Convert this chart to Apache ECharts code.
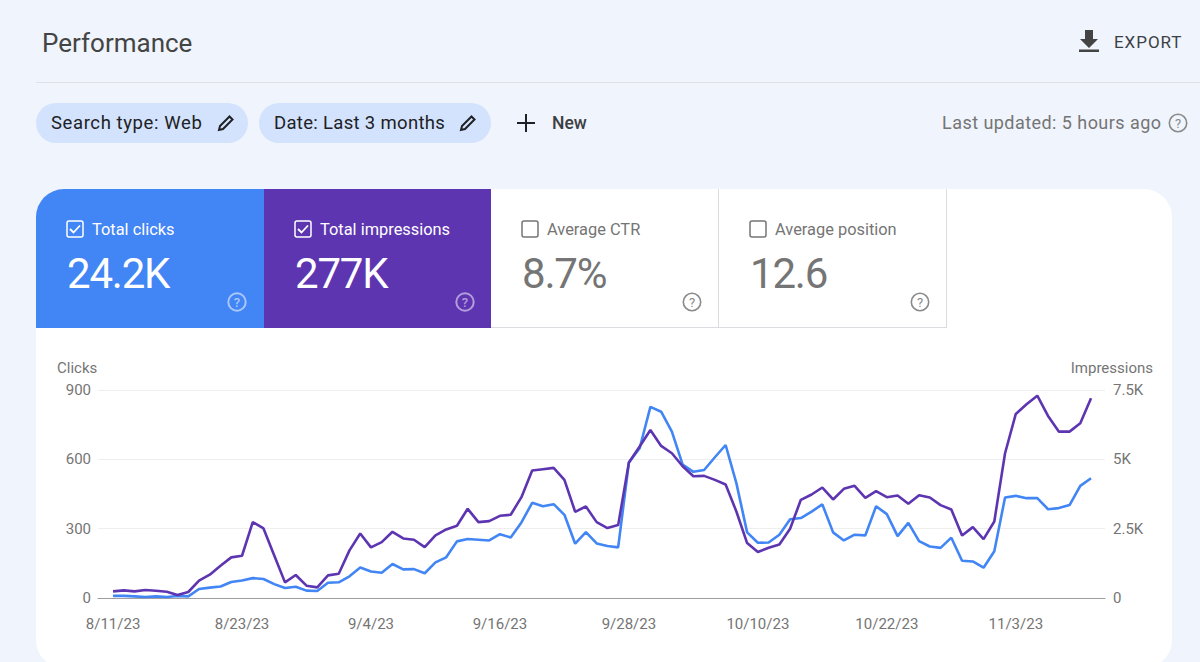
<!DOCTYPE html>
<html>
<head>
<meta charset="utf-8">
<title>Performance</title>
<script src="https://cdn.jsdelivr.net/npm/echarts@6/dist/echarts.min.js"></script>
<style>
  html, body { margin: 0; padding: 0; width: 1200px; height: 662px; overflow: hidden; background: #f0f4fc; font-family: Roboto, sans-serif; }
  .abs { position: absolute; white-space: nowrap; }
  #title { left: 42px; top: 28px; font-size: 26px; color: #444; }
  #export { left: 1114px; top: 32px; font-size: 17px; letter-spacing: .95px; color: #3c4043; }
  #rule { left: 36px; top: 82px; width: 1164px; height: 1px; background: #dfe1e5; }
  .chip { height: 40px; top: 103px; background: #d3e3fd; border-radius: 20px; }
  .chip-text { top: 112px; font-size: 18.5px; color: #202124; }
  #updated { left: 942px; top: 112px; font-size: 18px; letter-spacing: .45px; color: #757575; }
  #card { left: 36px; top: 189px; width: 1136px; height: 479px; background: #fff; border-radius: 28px; overflow: hidden; }
  .tile { position: absolute; top: 0; height: 139px; }
  #t1 { left: 0; width: 228px; background: #4285f4; }
  #t2 { left: 228px; width: 227px; background: #5e35b1; }
  #t3 { left: 455px; width: 227px; border-right: 1px solid #dadce0; border-bottom: 1px solid #dadce0; height: 138px; }
  #t4 { left: 683px; width: 227px; border-right: 1px solid #dadce0; border-bottom: 1px solid #dadce0; height: 138px; }
  .lab { position: absolute; top: 31px; left: 56px; font-size: 16.4px; white-space: nowrap; }
  .num { position: absolute; top: 60px; left: 31px; font-size: 42px; letter-spacing: -1.2px; white-space: nowrap; }
  .on { color: #fff; }
  .off { color: #757575; }
  svg.abs { overflow: visible; }
  #chart { left: 0; top: 0; width: 1200px; height: 662px; }
</style>
</head>
<body>
<div class="abs" id="title">Performance</div>
<svg class="abs" style="left:1077px;top:28px" width="24" height="26" viewBox="0 0 24 26"><path d="M8 2h8v9h5l-9 9-9-9h5z M2 21.5h20v2.5H2z" fill="#444"/></svg>
<div class="abs" id="export">EXPORT</div>
<div class="abs" id="rule"></div>

<div class="abs chip" style="left:36px;width:212px"></div>
<div class="abs chip-text" style="left:51px;letter-spacing:.6px">Search type: Web</div>
<svg class="abs" style="left:216px;top:113px" width="20" height="20" viewBox="0 0 20 20"><path d="M3 17l1-4L13.5 3.5l3 3L7 16z" fill="none" stroke="#202124" stroke-width="2"/></svg>
<div class="abs chip" style="left:259px;width:232px"></div>
<div class="abs chip-text" style="left:274px;letter-spacing:.32px">Date: Last 3 months</div>
<svg class="abs" style="left:458px;top:113px" width="20" height="20" viewBox="0 0 20 20"><path d="M3 17l1-4L13.5 3.5l3 3L7 16z" fill="none" stroke="#202124" stroke-width="2"/></svg>
<svg class="abs" style="left:516px;top:113px" width="20" height="20" viewBox="0 0 20 20"><path d="M10 1v18M1 10h18" stroke="#202124" stroke-width="2"/></svg>
<div class="abs" style="left:552px;top:113px;font-size:17.5px;font-weight:500;color:#3c4043">New</div>
<div class="abs" id="updated">Last updated: 5 hours ago</div>
<svg class="abs" style="left:1168px;top:113px" width="20" height="20" viewBox="0 0 20 20"><circle cx="10" cy="10" r="8.7" fill="none" stroke="#8a8a8a" stroke-width="1.6"/><text x="10" y="14.5" font-size="13" text-anchor="middle" fill="#8a8a8a" font-family="Roboto">?</text></svg>

<div class="abs" id="card">
  <div class="tile" id="t1">
    <svg style="position:absolute;left:30px;top:31px" width="18" height="18" viewBox="0 0 18 18"><rect x="1" y="1" width="16" height="16" rx="2" fill="none" stroke="#fff" stroke-width="1.5"/><path d="M4 9l3.5 3.5L14 5.5" fill="none" stroke="#fff" stroke-width="1.8"/></svg>
    <div class="lab on">Total clicks</div><div class="num on">24.2K</div>
    <svg style="position:absolute;left:191px;top:103px" width="20" height="20" viewBox="0 0 20 20"><circle cx="10" cy="10" r="8.7" fill="none" stroke="#a9c7fa" stroke-width="2"/><text x="10" y="14.5" font-size="13" font-weight="500" text-anchor="middle" fill="#a9c7fa" font-family="Roboto">?</text></svg>
  </div>
  <div class="tile" id="t2">
    <svg style="position:absolute;left:30px;top:31px" width="18" height="18" viewBox="0 0 18 18"><rect x="1" y="1" width="16" height="16" rx="2" fill="none" stroke="#fff" stroke-width="1.5"/><path d="M4 9l3.5 3.5L14 5.5" fill="none" stroke="#fff" stroke-width="1.8"/></svg>
    <div class="lab on">Total impressions</div><div class="num on">277K</div>
    <svg style="position:absolute;left:191px;top:103px" width="20" height="20" viewBox="0 0 20 20"><circle cx="10" cy="10" r="8.7" fill="none" stroke="#b39ddb" stroke-width="2"/><text x="10" y="14.5" font-size="13" font-weight="500" text-anchor="middle" fill="#b39ddb" font-family="Roboto">?</text></svg>
  </div>
  <div class="tile" id="t3">
    <svg style="position:absolute;left:30px;top:31px" width="18" height="18" viewBox="0 0 18 18"><rect x="1" y="1" width="16" height="16" rx="2" fill="none" stroke="#757575" stroke-width="1.5"/></svg>
    <div class="lab off">Average CTR</div><div class="num off">8.7%</div>
    <svg style="position:absolute;left:191px;top:103px" width="20" height="20" viewBox="0 0 20 20"><circle cx="10" cy="10" r="8.7" fill="none" stroke="#8a8a8a" stroke-width="1.6"/><text x="10" y="14.5" font-size="13" text-anchor="middle" fill="#8a8a8a" font-family="Roboto">?</text></svg>
  </div>
  <div class="tile" id="t4">
    <svg style="position:absolute;left:30px;top:31px" width="18" height="18" viewBox="0 0 18 18"><rect x="1" y="1" width="16" height="16" rx="2" fill="none" stroke="#757575" stroke-width="1.5"/></svg>
    <div class="lab off">Average position</div><div class="num off">12.6</div>
    <svg style="position:absolute;left:191px;top:103px" width="20" height="20" viewBox="0 0 20 20"><circle cx="10" cy="10" r="8.7" fill="none" stroke="#8a8a8a" stroke-width="1.6"/><text x="10" y="14.5" font-size="13" text-anchor="middle" fill="#8a8a8a" font-family="Roboto">?</text></svg>
  </div>
</div>
<div class="abs" id="chart"></div>

<script>
const dates = [
  '8/11/23','8/12/23','8/13/23','8/14/23','8/15/23','8/16/23','8/17/23','8/18/23','8/19/23','8/20/23','8/21/23','8/22/23',
  '8/23/23','8/24/23','8/25/23','8/26/23','8/27/23','8/28/23','8/29/23','8/30/23','8/31/23','9/1/23','9/2/23','9/3/23',
  '9/4/23','9/5/23','9/6/23','9/7/23','9/8/23','9/9/23','9/10/23','9/11/23','9/12/23','9/13/23','9/14/23','9/15/23',
  '9/16/23','9/17/23','9/18/23','9/19/23','9/20/23','9/21/23','9/22/23','9/23/23','9/24/23','9/25/23','9/26/23','9/27/23',
  '9/28/23','9/29/23','9/30/23','10/1/23','10/2/23','10/3/23','10/4/23','10/5/23','10/6/23','10/7/23','10/8/23','10/9/23',
  '10/10/23','10/11/23','10/12/23','10/13/23','10/14/23','10/15/23','10/16/23','10/17/23','10/18/23','10/19/23','10/20/23','10/21/23',
  '10/22/23','10/23/23','10/24/23','10/25/23','10/26/23','10/27/23','10/28/23','10/29/23','10/30/23','10/31/23','11/1/23','11/2/23',
  '11/3/23','11/4/23','11/5/23','11/6/23','11/7/23','11/8/23','11/9/23','11/10/23'
]
const clicks = [
  9,9,7,4,7,4,9,7,39,45,50,69,
  76,86,82,60,43,49,32,30,66,68,94,132,
  115,109,147,124,125,107,154,176,245,255,252,249,
  276,262,327,412,397,406,360,235,285,236,225,219,
  586,648,827,806,720,577,546,554,609,662,497,284,
  239,240,274,341,346,374,405,284,249,274,271,397,
  363,268,325,246,223,217,261,161,158,131,202,435,
  442,432,432,384,389,402,485,518
]
const impressions = [
  240,276,240,288,264,228,108,216,624,840,1164,1464,
  1524,2736,2508,1536,564,828,444,384,816,876,1716,2328,
  1824,2016,2388,2148,2100,1836,2256,2472,2604,3216,2736,2772,
  2964,3000,3636,4596,4644,4692,4260,3108,3300,2736,2520,2628,
  4884,5460,6060,5484,5220,4752,4392,4404,4260,4092,3120,1980,
  1656,1812,1932,2496,3540,3732,3984,3552,3936,4044,3612,3852,
  3636,3696,3396,3708,3624,3348,3192,2256,2556,2124,2760,5220,
  6636,6984,7296,6564,6000,6000,6300,7200
]
const xTicks = [0, 12, 24, 36, 48, 60, 72, 84]
const clickTicks = [0, 300, 600, 900]
const impressionTicks = [0, 2500, 5000, 7500]

const chart = echarts.init(document.getElementById('chart'), null, { renderer: 'svg' })
const axisText = { color: '#757575', fontSize: 15, fontFamily: 'Roboto' }

chart.setOption({
  animation: false,
  backgroundColor: 'transparent',
  grid: { left: 98, right: 95, top: 390, bottom: 64 },
  xAxis: {
    type: 'value',
    min: -1.4,
    max: 92.3,
    splitLine: { show: false },
    axisTick: { show: false },
    axisLine: { onZero: false, lineStyle: { color: '#9e9e9e', width: 1 } },
    axisLabel: {
      ...axisText,
      margin: 18,
      customValues: xTicks,
      formatter: v => dates[v]
    }
  },
  yAxis: [
    {
      type: 'value',
      min: 0,
      max: 900,
      interval: 300,
      name: 'Clicks',
      nameLocation: 'end',
      nameGap: 15,
      nameTextStyle: { ...axisText, align: 'left', padding: [0, 0, 0, -56] },
      axisLine: { show: false },
      axisTick: { show: false },
      axisLabel: { ...axisText, margin: 7, customValues: clickTicks },
      splitLine: { lineStyle: { color: '#eeeeee', width: 1 } }
    },
    {
      type: 'value',
      min: 0,
      max: 7500,
      interval: 2500,
      name: 'Impressions',
      nameLocation: 'end',
      nameGap: 15,
      nameTextStyle: { ...axisText, align: 'right', padding: [0, -48, 0, 0] },
      axisLine: { show: false },
      axisTick: { show: false },
      axisLabel: {
        ...axisText,
        margin: 8,
        customValues: impressionTicks,
        formatter: v => (v === 0 ? '0' : (v / 1000) + 'K')
      },
      splitLine: { show: false }
    }
  ],
  series: [
    {
      name: 'Clicks',
      type: 'line',
      yAxisIndex: 0,
      symbol: 'none',
      lineStyle: { color: '#4285f4', width: 2.6 },
      data: clicks.map((v, i) => [i, v])
    },
    {
      name: 'Impressions',
      type: 'line',
      yAxisIndex: 1,
      symbol: 'none',
      lineStyle: { color: '#5e35b1', width: 2.6 },
      data: impressions.map((v, i) => [i, v])
    }
  ]
})
</script>
</body>
</html>
